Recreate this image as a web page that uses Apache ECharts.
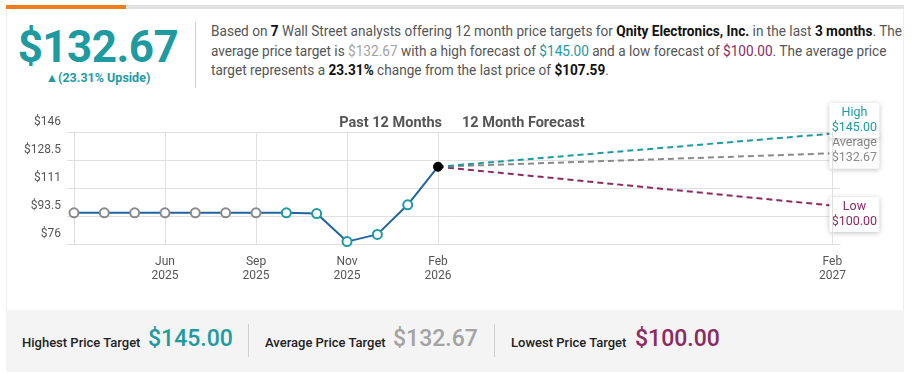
<!DOCTYPE html>
<html>
<head>
<meta charset="utf-8">
<script src="https://cdn.jsdelivr.net/npm/echarts@6/dist/echarts.min.js"></script>
<style>
  html, body { margin:0; padding:0; background:#fff; font-family: Roboto, "Noto Sans", sans-serif; }
  #wrap { position:relative; width:915px; height:374px; overflow:hidden; }
  #card { position:absolute; left:6px; top:6px; width:898px; height:366px; border-left:1px solid #eee; border-right:1px solid #eee; box-sizing:border-box; }
  #barGray { position:absolute; left:6px; top:5px; width:898px; height:4px; background:#e2e2e2; }
  #barOrange { position:absolute; left:6px; top:5px; width:120px; height:4px; background:#ef7d1c; }
  #big { position:absolute; left:0; width:196px; top:21px; text-align:center; font-weight:700; font-size:44px; color:#1e9aa1; letter-spacing:-0.5px; }
  #up { position:absolute; left:0; width:196px; top:70px; text-align:center; font-weight:700; font-size:12.5px; color:#1e9aa1; }
  #sep { position:absolute; left:195px; top:22px; width:1px; height:66px; background:#cfcfcf; }
  #para { position:absolute; left:211px; top:22px; font-size:14px; line-height:19.5px; color:#555; white-space:nowrap; transform-origin:0 0; }
  #para b { color:#111; font-weight:700; }
  .t { color:#1e9aa1; } .g { color:#a3a3a3; } .p { color:#8c2a62; }
  #chart { position:absolute; left:0; top:0; width:915px; height:374px; }
  #footer { position:absolute; left:6px; top:310px; width:898px; height:62px; background:#f4f4f4; }
  .fl { position:absolute; top:335px; font-size:13px; font-weight:500; color:#222; }
  .fv { position:absolute; top:325px; font-size:23px; font-weight:500; }
  .fs { position:absolute; top:324px; width:1px; height:33px; background:#cfcfcf; }
</style>
</head>
<body>
<div id="wrap">
  <div id="card"></div>
  <div id="barGray"></div>
  <div id="barOrange"></div>
  <div id="big">$132.67</div>
  <div id="up">▲(23.31% Upside)</div>
  <div id="sep"></div>
  <div id="para"><span id="l1">Based on <b>7</b> Wall Street analysts offering 12 month price targets for <b>Qnity Electronics, Inc.</b> in the last <b>3 months</b>. The</span><br>average price target is <span class="g">$132.67</span> with a high forecast of <span class="t">$145.00</span> and a low forecast of <span class="p">$100.00</span>. The average price<br>target represents a <b>23.31%</b> change from the last price of <b>$107.59</b>.</div>
  <div id="footer"></div>
  <div class="fl" style="left:22px">Highest Price Target</div>
  <div class="fv t" style="left:148px">$145.00</div>
  <div class="fs" style="left:248px"></div>
  <div class="fl" style="left:265px">Average Price Target</div>
  <div class="fv g" style="left:393px">$132.67</div>
  <div class="fs" style="left:494px"></div>
  <div class="fl" style="left:511px">Lowest Price Target</div>
  <div class="fv p" style="left:635px">$100.00</div>
  <div id="chart"></div>
</div>
<script>
// fit paragraph first line to the reference width
(function () {
  var l1 = document.getElementById('l1');
  var w = l1.getBoundingClientRect().width;
  if (w > 0) document.getElementById('para').style.transform = 'scaleX(' + (691 / w) + ')';
})();

// ---- data ----
var pastX = [0, 1, 2, 3, 4, 5, 6, 7, 8, 9, 10, 11, 12];
var pastValues = [95.5, 95.5, 95.5, 95.5, 95.5, 95.5, 95.5, 95.5, 95, 77.5, 82, 100.5, 124.3];
var pastPointKind = ['gray','gray','gray','gray','gray','gray','gray','teal','teal','teal','teal','teal','current'];
var forecastX = [12, 25];
var highTarget = 145.00;
var avgTarget = 132.67;
var lowTarget = 100.00;
var xTickValues = [3, 6, 9, 12, 25];
var xTickLabels = ['Jun\n2025', 'Sep\n2025', 'Nov\n2025', 'Feb\n2026', 'Feb\n2027'];
var yTicks = [76, 93.5, 111, 128.5, 146];
var yTickLabels = ['$76', '$93.5', '$111', '$128.5', '$146'];

var TEAL = '#1e9aa1', GRAY = '#8a8a8a', PURPLE = '#8c2a62', LINE = '#1f64a0';
var lastVal = pastValues[pastValues.length - 1];

var pastData = pastX.map(function (x, i) {
  var k = pastPointKind[i];
  var item = { value: [x, pastValues[i]] };
  if (k === 'gray') item.itemStyle = { color: '#fff', borderColor: '#8a8a8a', borderWidth: 2 };
  else if (k === 'teal') item.itemStyle = { color: '#fff', borderColor: TEAL, borderWidth: 2 };
  else { item.itemStyle = { color: '#000', borderColor: '#000', borderWidth: 1 }; }
  return item;
});

function fc(name, target, color, offY) {
  return {
    name: name, type: 'line', z: 3,
    data: [[forecastX[0], lastVal], [forecastX[1], target]],
    showSymbol: false, symbol: 'none',
    lineStyle: { color: color, width: 2, type: [6, 4] },
    endLabel: {
      show: true, distance: -3, offset: [0, offY],
      formatter: function () { return '{a|' + name + '}\n{a|$' + target.toFixed(2) + '}'; },
      backgroundColor: '#fff', borderRadius: 2, padding: [2, 3, 3, 3],
      shadowBlur: 5, shadowColor: 'rgba(0,0,0,0.25)', shadowOffsetY: 1,
      rich: { a: { color: color, fontSize: 12.5, lineHeight: 15, width: 44, align: 'center', fontFamily: 'Roboto' } }
    },
    silent: true, animation: false
  };
}

var chart = echarts.init(document.getElementById('chart'), null, { renderer: 'canvas' });
chart.setOption({
  animation: false,
  textStyle: { fontFamily: 'Roboto' },
  title: [
    { text: 'Past 12 Months', right: 468, top: 111, textStyle: { fontSize: 14.5, fontWeight: 'bold', color: '#555' } },
    { text: '12 Month Forecast', left: 457, top: 111, textStyle: { fontSize: 14.5, fontWeight: 'bold', color: '#555' } }
  ],
  grid: { left: 67, right: 75, top: 132, bottom: 130 },
  xAxis: {
    type: 'value', min: -0.23, max: 25.25,
    axisLine: { show: true, lineStyle: { color: '#ddd' } },
    axisTick: { show: false },
    splitLine: { show: false },
    axisLabel: {
      customValues: xTickValues, color: '#555', fontSize: 12, lineHeight: 14, margin: 11,
      formatter: function (v) { var i = xTickValues.indexOf(v); return i >= 0 ? xTickLabels[i] : ''; }
    }
  },
  yAxis: {
    type: 'value', min: 76, max: 146, interval: 17.5,
    axisLine: { show: true, lineStyle: { color: '#ddd' } },
    axisTick: { show: false },
    splitLine: { lineStyle: { color: '#e0e0e0' } },
    axisLabel: {
      color: '#555', fontSize: 12, margin: 6, verticalAlign: 'bottom', padding: [0, 0, 4, 0],
      formatter: function (v) { var i = yTicks.indexOf(v); return i >= 0 ? yTickLabels[i] : ''; }
    }
  },
  series: [
    {
      name: 'grid', type: 'line', data: [], silent: true,
      markLine: {
        silent: true, symbol: 'none', label: { show: false },
        lineStyle: { color: '#e0e0e0', width: 1, type: 'solid' },
        data: xTickValues.map(function (v) { return { xAxis: v }; })
      }
    },
    fc('Low', lowTarget, PURPLE, 9),
    fc('Average', avgTarget, GRAY, -2),
    fc('High', highTarget, TEAL, -13),
    {
      name: 'Past', type: 'line', z: 5, data: pastData,
      symbol: 'circle', symbolSize: 9, showAllSymbol: true,
      lineStyle: { color: LINE, width: 2 }, itemStyle: { color: LINE }
    }
  ]
});
</script>
</body>
</html>
